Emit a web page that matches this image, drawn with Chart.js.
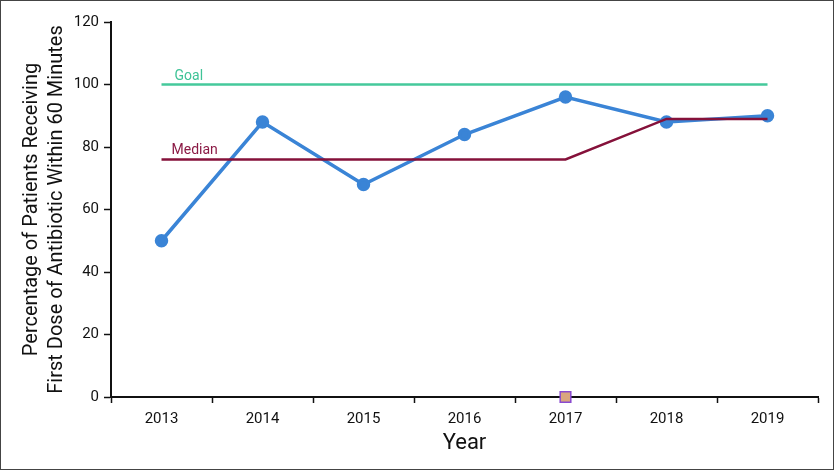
<!DOCTYPE html>
<html>
<head>
<meta charset="utf-8">
<script src="https://cdn.jsdelivr.net/npm/chart.js@4"></script>
<style>
  html, body { margin: 0; padding: 0; background: #fff; }
  #wrap { width: 834px; height: 470px; box-sizing: border-box; border: 1px solid #444; position: relative; }
  canvas { display: block; }
</style>
</head>
<body>
<div id="wrap"><canvas id="chart"></canvas></div>
<script>
// Data
const years = ["2013", "2014", "2015", "2016", "2017", "2018", "2019"];
const actual = [50, 88, 68, 84, 96, 88, 90];
const goal = [100, 100, 100, 100, 100, 100, 100];
const median = [76, 76, 76, 76, 76, 89, 89];
const marker = [{ x: "2017", y: 0 }];
const yTicks = [0, 20, 40, 60, 80, 100, 120];

const FONT = "'Liberation Sans Narrow', 'Roboto', sans-serif";

// Small text labels over the goal and median lines
const lineLabels = {
  id: "lineLabels",
  afterDatasetsDraw(chart) {
    const ctx = chart.ctx;
    const x = chart.scales.x;
    const y = chart.scales.y;
    ctx.save();
    ctx.font = "14px " + FONT;
    ctx.textBaseline = "alphabetic";
    ctx.fillStyle = "#3fc397";
    ctx.fillText("Goal", x.getPixelForValue(0) + 13, y.getPixelForValue(goal[0]) - 5);
    ctx.fillStyle = "#8b1a45";
    ctx.fillText("Median", x.getPixelForValue(0) + 10, y.getPixelForValue(median[0]) - 6);
    ctx.restore();
  }
};

const ctx = document.getElementById("chart").getContext("2d");
new Chart(ctx, {
  type: "line",
  data: {
    labels: years,
    datasets: [
      {
        label: "Goal",
        data: goal,
        borderColor: "#45c99b",
        borderWidth: 2.5,
        pointRadius: 0,
        order: 3
      },
      {
        label: "Median",
        data: median,
        borderColor: "#85113a",
        borderWidth: 2.5,
        pointRadius: 0,
        order: 1
      },
      {
        label: "Actual",
        data: actual,
        borderColor: "#3a84d6",
        backgroundColor: "#3a84d6",
        borderWidth: 3.5,
        pointRadius: 5,
        order: 2
      },
      {
        type: "scatter",
        label: "Marker",
        data: marker,
        pointStyle: "rect",
        pointRadius: 7.5,
        backgroundColor: "#d9a67e",
        borderColor: "#8a4ad0",
        borderWidth: 1.5,
        clip: false,
        order: 0
      }
    ]
  },
  options: {
    responsive: true,
    maintainAspectRatio: false,
    animation: false,
    layout: { padding: { left: 0, right: 15, top: 21, bottom: 12 } },
    plugins: {
      legend: { display: false },
      tooltip: { enabled: false }
    },
    scales: {
      x: {
        offset: true,
        grid: { display: true, drawOnChartArea: false, offset: true, color: "#111", tickLength: 6, tickWidth: 1.5 },
        border: { color: "#111", width: 2 },
        ticks: { color: "#111", font: { family: FONT, size: 15 }, padding: 7 },
        title: { display: true, text: "Year", color: "#111", font: { family: FONT, size: 22, lineHeight: 1.2 }, padding: 0 },
        afterFit(scale) { scale.height = 60; }
      },
      y: {
        min: 0,
        max: 120,
        afterBuildTicks(scale) { scale.ticks = yTicks.map(v => ({ value: v })); },
        grid: { display: true, drawOnChartArea: false, color: "#111", tickLength: 7, tickWidth: 1.5 },
        border: { color: "#111", width: 2 },
        ticks: { color: "#111", font: { family: FONT, size: 15 }, padding: 5 },
        title: {
          display: true,
          text: ["Percentage of Patients Receiving", "First Dose of Antibiotic Within 60 Minutes"],
          color: "#111",
          font: { family: FONT, size: 20, lineHeight: 1.25 },
          padding: { top: 18 }
        },
        afterFit(scale) { scale.width = 110; }
      }
    }
  },
  plugins: [lineLabels]
});
</script>
</body>
</html>
